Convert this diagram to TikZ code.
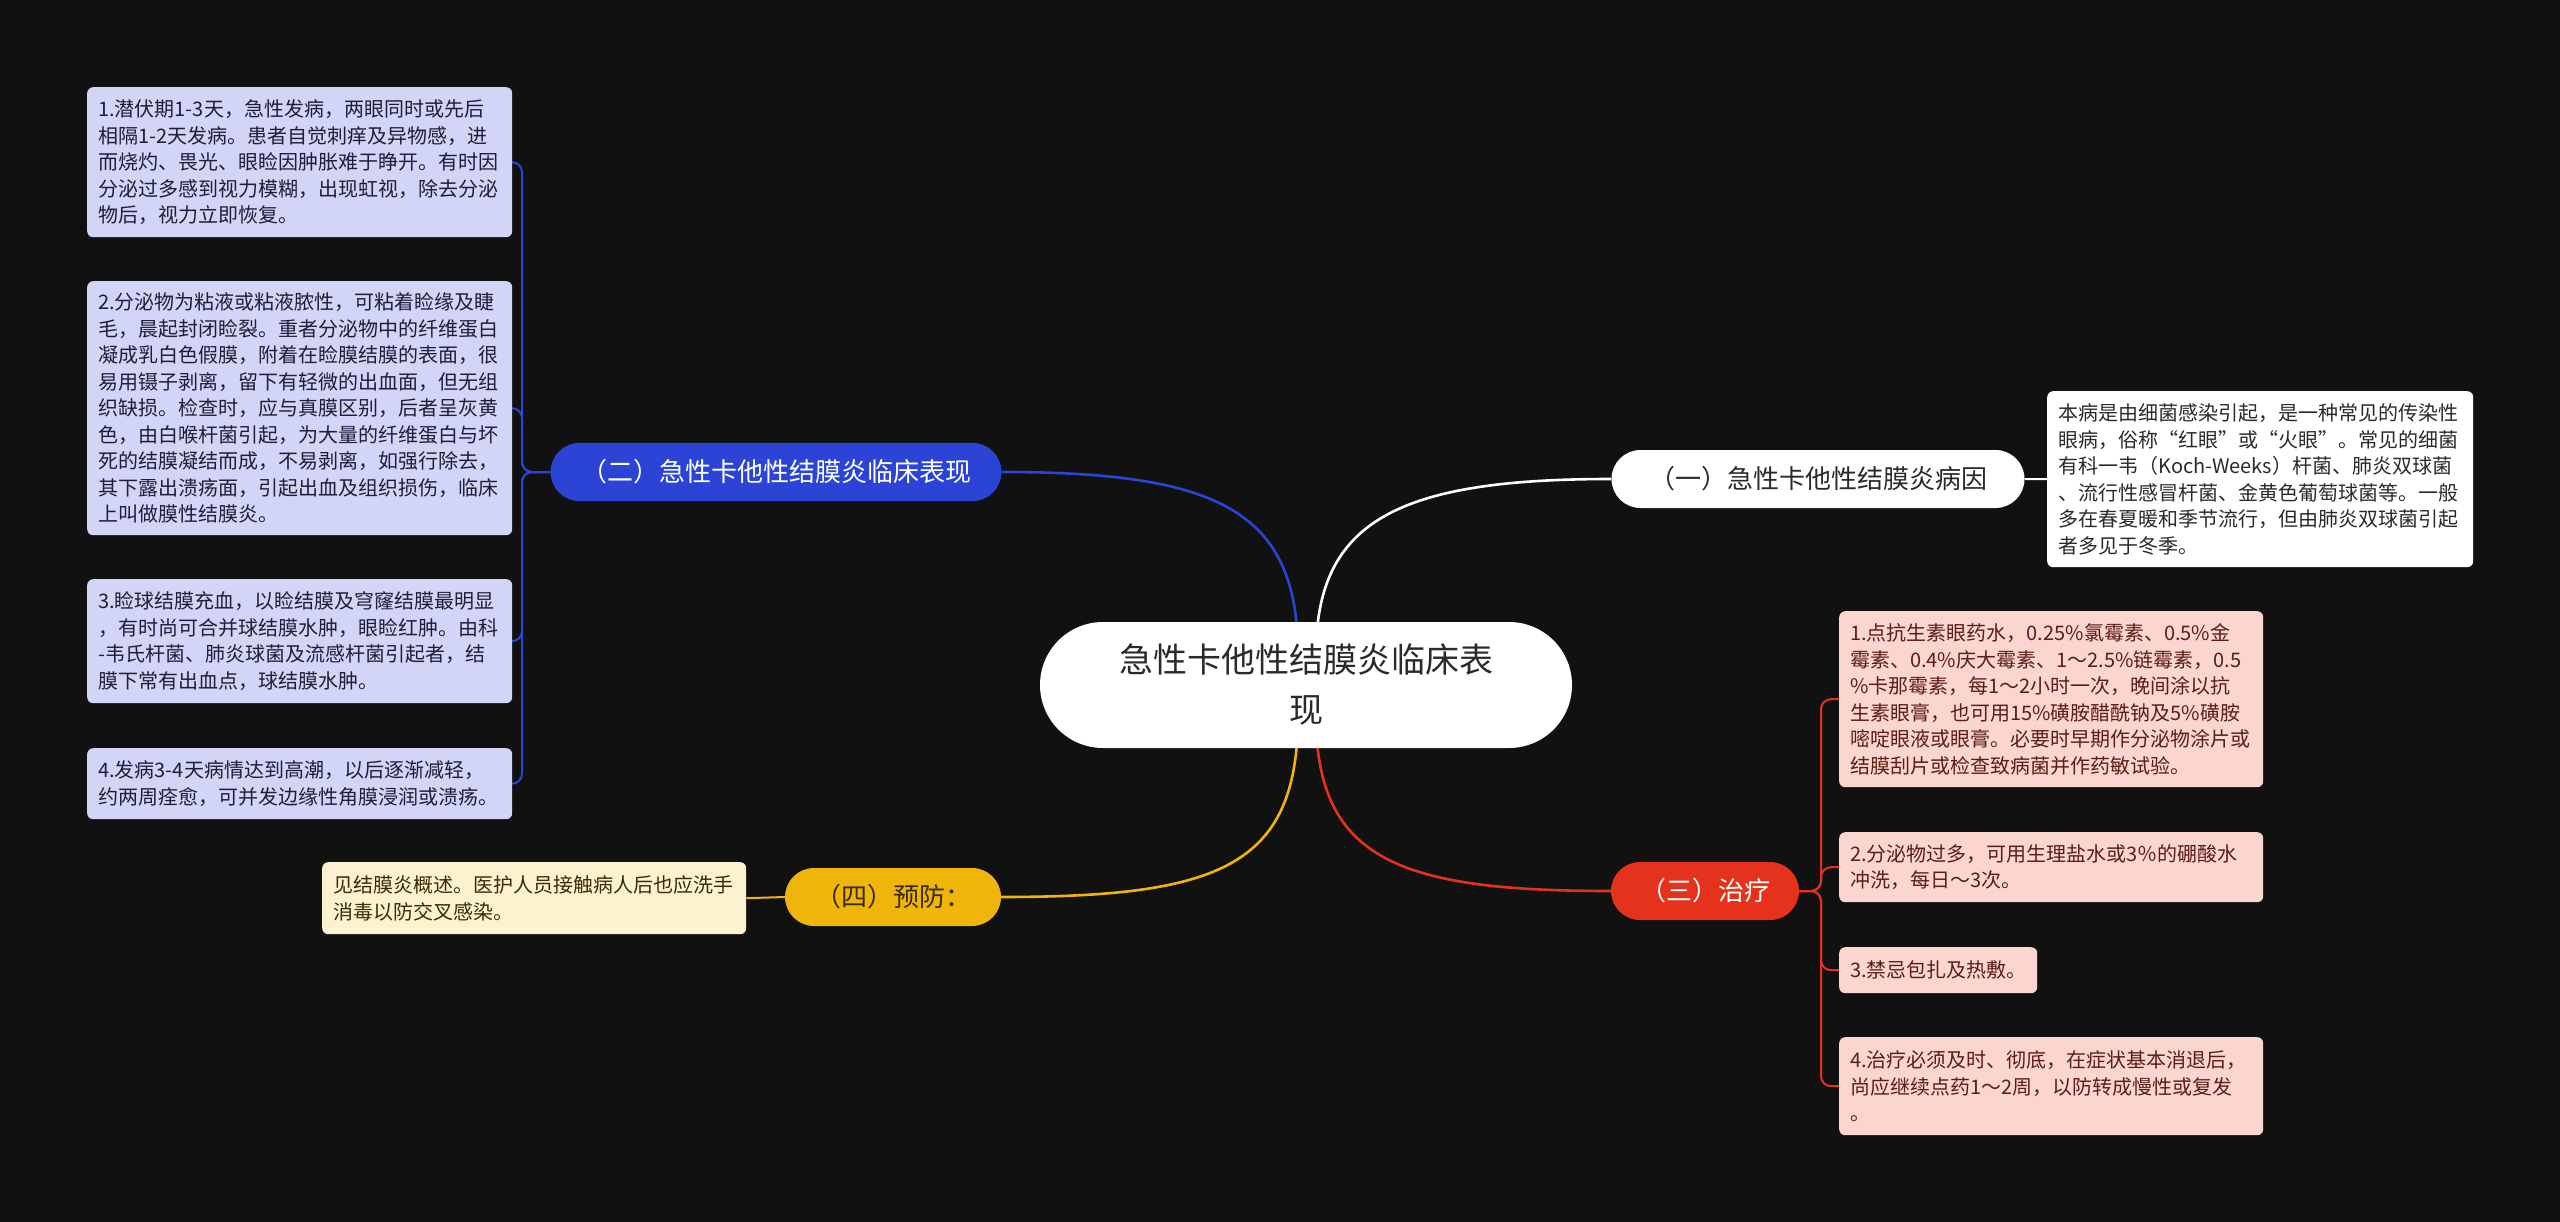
\documentclass[tikz,border=0pt]{standalone}
\usepackage{fontspec}
\setmainfont{Noto Sans CJK SC}
\usetikzlibrary{backgrounds}
\definecolor{bgc}{HTML}{111111}
\definecolor{cblue}{HTML}{2C44D6}
\definecolor{cred}{HTML}{E5321D}
\definecolor{cyel}{HTML}{F0B50A}
\definecolor{lblue}{HTML}{D3D5F6}
\definecolor{lpink}{HTML}{FBD5D0}
\definecolor{lcream}{HTML}{FDF2D0}
\definecolor{tdark}{HTML}{2A2A2A}
\definecolor{tnavy}{HTML}{1E1E38}
\definecolor{tbrown}{HTML}{5A1E14}
\definecolor{tyel}{HTML}{3A2C00}
\tikzset{
  leafbox/.style={rounded corners=6pt, inner xsep=11pt, inner ysep=6pt, align=left,
    text width=#1, font=\fontsize{20}{26.5}\selectfont, anchor=north west},
  bleaf/.style={leafbox=403pt, fill=lblue, text=tnavy},
  rleaf/.style={leafbox=#1, fill=lpink, text=tbrown},
  wleaf/.style={leafbox=404pt, fill=white, text=tdark},
  yleaf/.style={leafbox=402pt, fill=lcream, text=tyel},
  branchbox/.style={rounded corners=29pt, minimum height=58pt, inner sep=0pt,
    font=\fontsize{26}{30}\selectfont},
  mainlink/.style={line width=2.6pt},
  leaflink/.style={line width=2pt, rounded corners=10pt},
}
\begin{document}
\begin{tikzpicture}[x=1pt,y=-1pt]
\useasboundingbox (0,0) rectangle (2560,1222);
% central
\node[fill=white, rounded corners=63pt, minimum width=532pt, minimum height=126pt,
  inner sep=0pt, align=center, text=tdark, font=\fontsize{34}{50}\selectfont]
  (c) at (1306,685) {急性卡他性结膜炎临床表\\现};
% branches
\node[branchbox, fill=white, text=tdark, minimum width=413pt] (n1) at (1818,479) {（一）急性卡他性结膜炎病因};
\node[branchbox, fill=cblue, text=white, minimum width=451pt] (n2) at (776,472) {（二）急性卡他性结膜炎临床表现};
\node[branchbox, fill=cred, text=white, minimum width=188pt] (n3) at (1705,891) {（三）治疗};
\node[branchbox, fill=cyel, text=tyel, minimum width=216pt] (n4) at (893,897) {（四）预防：};
% blue leaves
\node[bleaf, minimum height=150pt] (b1) at (87,87) {1.潜伏期1-3天，急性发病，两眼同时或先后\\相隔1-2天发病。患者自觉刺痒及异物感，进\\而烧灼、畏光、眼睑因肿胀难于睁开。有时因\\分泌过多感到视力模糊，出现虹视，除去分泌\\物后，视力立即恢复。};
\node[bleaf, minimum height=254pt] (b2) at (87,281) {2.分泌物为粘液或粘液脓性，可粘着睑缘及睫\\毛，晨起封闭睑裂。重者分泌物中的纤维蛋白\\凝成乳白色假膜，附着在睑膜结膜的表面，很\\易用镊子剥离，留下有轻微的出血面，但无组\\织缺损。检查时，应与真膜区别，后者呈灰黄\\色，由白喉杆菌引起，为大量的纤维蛋白与坏\\死的结膜凝结而成，不易剥离，如强行除去，\\其下露出溃疡面，引起出血及组织损伤，临床\\上叫做膜性结膜炎。};
\node[bleaf, minimum height=124pt] (b3) at (87,579) {3.睑球结膜充血，以睑结膜及穹窿结膜最明显\\，有时尚可合并球结膜水肿，眼睑红肿。由科\\-韦氏杆菌、肺炎球菌及流感杆菌引起者，结\\膜下常有出血点，球结膜水肿。};
\node[bleaf, minimum height=71pt] (b4) at (87,748) {4.发病3-4天病情达到高潮，以后逐渐减轻，\\约两周痊愈，可并发边缘性角膜浸润或溃疡。};
% white leaf
\node[wleaf, minimum height=176pt] (w1) at (2047,391) {本病是由细菌感染引起，是一种常见的传染性\\眼病，俗称“红眼”或“火眼”。常见的细菌\\有科一韦（Koch-Weeks）杆菌、肺炎双球菌\\、流行性感冒杆菌、金黄色葡萄球菌等。一般\\多在春夏暖和季节流行，但由肺炎双球菌引起\\者多见于冬季。};
% red leaves
\node[rleaf=402pt, minimum height=176pt] (r1) at (1839,611) {1.点抗生素眼药水，0.25\%氯霉素、0.5\%金\\霉素、0.4\%庆大霉素、1～2.5\%链霉素，0.5\\\%卡那霉素，每1～2小时一次，晚间涂以抗\\生素眼膏，也可用15\%磺胺醋酰钠及5\%磺胺\\嘧啶眼液或眼膏。必要时早期作分泌物涂片或\\结膜刮片或检查致病菌并作药敏试验。};
\node[rleaf=402pt, minimum height=70pt] (r2) at (1839,832) {2.分泌物过多，可用生理盐水或3％的硼酸水\\冲洗，每日～3次。};
\node[rleaf=176pt, minimum height=46pt] (r3) at (1839,947) {3.禁忌包扎及热敷。};
\node[rleaf=402pt, minimum height=98pt] (r4) at (1839,1037) {4.治疗必须及时、彻底，在症状基本消退后，\\尚应继续点药1～2周，以防转成慢性或复发\\。};
% yellow leaf
\node[yleaf, minimum height=72pt] (y1) at (322,862) {见结膜炎概述。医护人员接触病人后也应洗手\\消毒以防交叉感染。};
% start points on central node
\coordinate (cw) at (1316,650);
\coordinate (cb) at (1298,650);
\coordinate (cr) at (1316,720);
\coordinate (cy) at (1298,720);
\coordinate (jb) at (522,472);
\coordinate (jr) at (1821,891);
\begin{scope}[on background layer]
\fill[bgc] (0,0) rectangle (2560,1222);
\draw[mainlink, white] (cw) .. controls (1318,520) and (1400,479) .. (n1.west);
\draw[mainlink, cblue] (cb) .. controls (1296,512) and (1220,472) .. (n2.east);
\draw[mainlink, cred] (cr) .. controls (1318,860) and (1400,891) .. (n3.west);
\draw[mainlink, cyel] (cy) .. controls (1296,866) and (1220,897) .. (n4.east);
\draw[leaflink, white] (n1.east) -- (w1.west);
\draw[leaflink, cyel] (n4.west) -- (y1.east);
\foreach \t in {b1,b2,b3,b4}{
  \draw[leaflink, cblue] (n2.west) -- (jb) |- (\t.east);
}
\foreach \t in {r1,r2,r3,r4}{
  \draw[leaflink, cred] (n3.east) -- (jr) |- (\t.west);
}
\end{scope}
\end{tikzpicture}
\end{document}
